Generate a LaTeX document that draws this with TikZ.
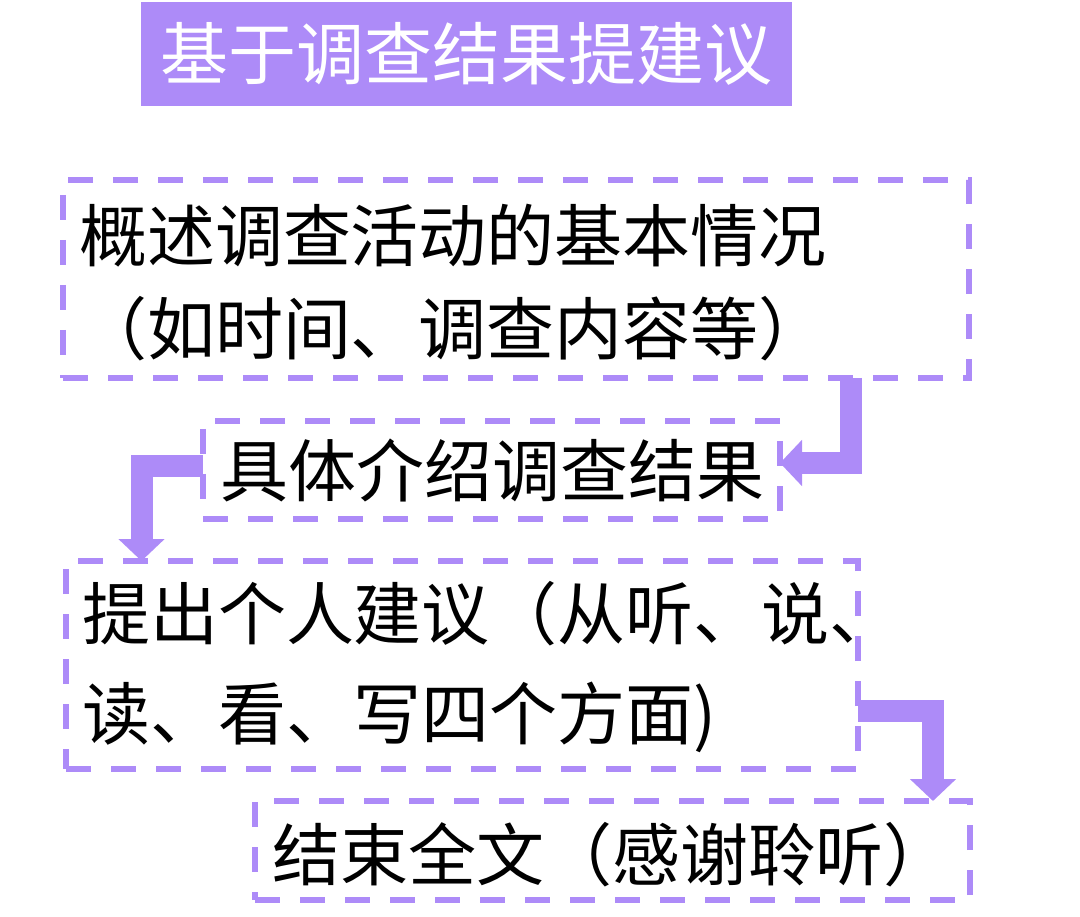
\documentclass[tikz,border=0pt]{standalone}
\usepackage{fontspec}
\newfontfamily\cjk{Noto Sans CJK SC}
\usepackage{tikz}
\usetikzlibrary{arrows.meta,positioning}
\definecolor{lilac}{HTML}{AD8BF8}

\begin{document}
\begin{tikzpicture}[x=1pt, y=-1pt]
\tikzstyle{every node}=[inner sep=0pt, outer sep=0pt,
                        font=\cjk\fontsize{68}{93}\selectfont]
\tikzstyle{dashbox}=[draw=lilac, line width=6pt, dash pattern=on 25pt off 20pt]
\tikzstyle{flow}=[draw=lilac, line width=22pt,
                  -{Triangle[width=45pt, length=22pt]}]
\useasboundingbox (0,0) rectangle (1080,917);
% title
\node[fill=lilac, text=white, minimum width=651pt, minimum height=104pt] (T) at (466.5,54) {基于调查结果提建议};
% boxes
\node[dashbox, minimum width=906pt, minimum height=198pt] (b1) at (516,279) {};
\node[dashbox, minimum width=577pt, minimum height=98pt] (b2) at (491.5,470) {};
\node[dashbox, minimum width=792pt, minimum height=208pt] (b3) at (462,665) {};
\node[dashbox, minimum width=715pt, minimum height=99pt] (b4) at (612.5,850.5) {};
% texts
\node[anchor=west, align=left] (t1) at ([xshift=16pt, yshift=-4pt]b1.west) {概述调查活动的基本情况\\（如时间、调查内容等）};
\node[anchor=west] (t2) at ([xshift=17pt]b2.west) {具体介绍调查结果};
\node[anchor=west, align=left, font=\cjk\fontsize{68}{100}\selectfont] (t3) at ([xshift=16pt, yshift=-2pt]b3.west) {提出个人建议（从听、说、\\读、看、写四个方面)};
\node[anchor=west] (t4) at ([xshift=17pt, yshift=-4pt]b4.west) {结束全文（感谢聆听）};
% arrows
\draw[flow] ([xshift=335pt]b1.south) |- ([yshift=7pt]b2.east);
\draw[flow] ([yshift=3.5pt]b2.west) -| ([xshift=75.5pt]b3.north west);
\draw[flow] ([yshift=-45.5pt]b3.east) -| ([xshift=-37pt]b4.north east);
\end{tikzpicture}
\end{document}
